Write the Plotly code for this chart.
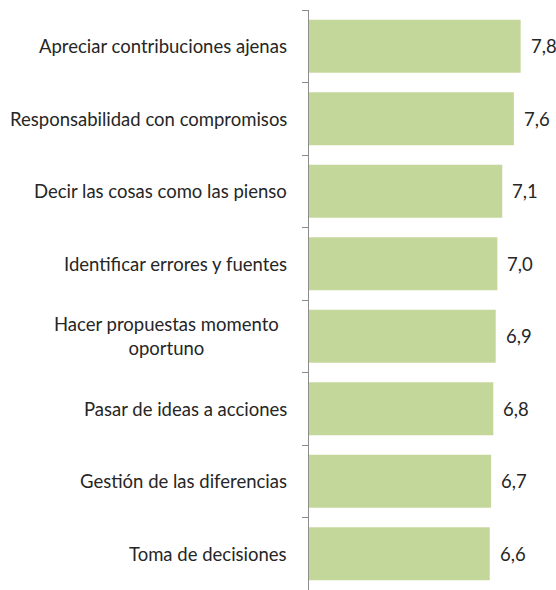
import plotly.graph_objects as go

categories = [
    "Apreciar contribuciones ajenas",
    "Responsabilidad con compromisos",
    "Decir las cosas como las pienso",
    "Identificar errores y fuentes",
    "Hacer propuestas momento<br>oportuno",
    "Pasar de ideas a acciones",
    "Gestión de las diferencias",
    "Toma de decisiones",
]
values = [7.81, 7.56, 7.13, 6.95, 6.89, 6.80, 6.72, 6.67]
value_labels = ["7,8", "7,6", "7,1", "7,0", "6,9", "6,8", "6,7", "6,6"]

FONT = "Lato"
TXT = "#262626"
fig = go.Figure(go.Bar(
    x=values, y=categories, orientation="h",
    marker=dict(color="#c4d79b", line=dict(width=0)),
    hoverinfo="skip",
))

annotations = []
for cat, v, lab in zip(categories, values, value_labels):
    annotations.append(dict(
        x=0, y=cat, xref="x", yref="y", text=cat, showarrow=False,
        xanchor="right", yanchor="middle", align="center",
        xshift=-20 if "<br>" not in cat else -28,
        font=dict(family=FONT, size=18.5, color=TXT),
    ))
    annotations.append(dict(
        x=v, y=cat, xref="x", yref="y", text=lab, showarrow=False,
        xanchor="left", yanchor="middle", xshift=8,
        font=dict(family=FONT, size=18.5, color=TXT),
    ))

fig.update_layout(
    width=556, height=590,
    margin=dict(l=309, r=0, t=10, b=0),
    paper_bgcolor="white", plot_bgcolor="white",
    showlegend=False, bargap=0.27,
    annotations=annotations,
    xaxis=dict(range=[0, 9.114], visible=False, fixedrange=True),
    yaxis=dict(
        autorange="reversed", showticklabels=False, showgrid=False,
        showline=True, linecolor="#8c8c8c", linewidth=1,
        ticks="outside", tickson="boundaries", ticklen=6, tickcolor="#8c8c8c",
        zeroline=False, fixedrange=True,
    ),
)

fig.write_html("out.html")
